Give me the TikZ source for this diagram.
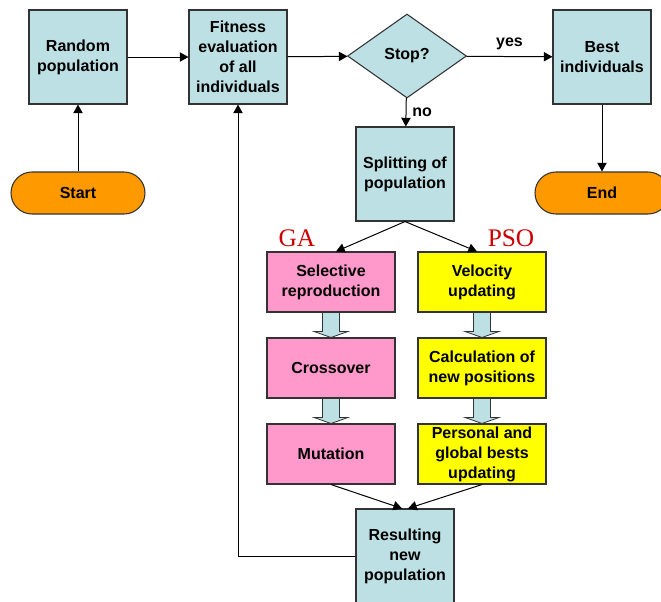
\documentclass[tikz,border=0pt]{standalone}
\usepackage{fontspec}
\setmainfont{Liberation Sans}
\newfontfamily\seriflabel{Liberation Serif}
\usepackage{tikz}
\usetikzlibrary{shapes,arrows.meta,positioning,calc}

\definecolor{boxblue}{HTML}{BCE0E4}
\definecolor{gapink}{HTML}{FF99CC}
\definecolor{psoyellow}{HTML}{FFFF00}
\definecolor{termorange}{HTML}{FF9900}
\definecolor{labelred}{HTML}{CC0000}
\definecolor{edgegray}{HTML}{333333}

\begin{document}
\begin{tikzpicture}[x=0.75pt,y=-0.75pt,
    every node/.style={font=\fontsize{12}{15}\selectfont\bfseries, align=center},
    box/.style={draw=edgegray, line width=0.8pt, fill=boxblue, inner sep=0pt, minimum width=73.5pt, minimum height=70.5pt},
    gabox/.style={box, fill=gapink, minimum width=96pt, minimum height=45pt},
    psobox/.style={gabox, fill=psoyellow},
    term/.style={draw=edgegray, line width=0.8pt, fill=termorange, rounded corners=15.75pt, minimum width=100.5pt, minimum height=31.5pt},
    decision/.style={diamond, draw=edgegray, line width=0.8pt, fill=boxblue, inner sep=0pt, minimum width=89.25pt, minimum height=63pt},
    line/.style={draw, line width=0.75pt, -{Triangle[length=6.5pt,width=7pt]}},
    blockarrow/.style={draw=edgegray, line width=0.6pt, fill=boxblue},
    tag/.style={font=\seriflabel\fontsize{19}{19}\selectfont, text=labelred}]
    \useasboundingbox (0,0) rectangle (661,601);
    \clip (0,0) rectangle (661,601);

    % main loop
    \node[box] (rand) at (78,57) {Random\\population};
    \node[box] (fit) at (238,57) {Fitness\\evaluation\\of all\\individuals};
    \node[decision] (stop) at (407,56) {Stop?};
    \node[box] (best) at (602,57) {Best\\individuals};
    \node[term] (start) at (78,193) {Start};
    \node[term] (endn) at (602,193) {End};
    \node[box] (split) at (405,174) {Splitting of\\population};
    \node[box] (res) at (405,556) {Resulting\\new\\population};

    % GA and PSO branches
    \node[tag] (galabel) at (297,238) {GA};
    \node[tag] (psolabel) at (511,238) {PSO};
    \node[gabox] (sel) at (331,282) {Selective\\reproduction};
    \node[gabox] (cross) at (331,368) {Crossover};
    \node[gabox] (mut) at (331,454) {Mutation};
    \node[psobox] (vel) at (482,282) {Velocity\\updating};
    \node[psobox] (calcpos) at (482,368) {Calculation of\\new positions};
    \node[psobox] (pers) at (482,454) {Personal and\\global bests\\updating};

    \draw[line] (start) -- (rand);
    \draw[line] (rand) -- (fit);
    \draw[line] (fit) -- (stop);
    \draw[line] (stop) -- node[above=1pt] {yes} (best);
    \draw[line] (stop) -- node[right=1pt] {no} (split);
    \draw[line] (best) -- (endn);
    \draw[line] (split.south) -- ($(sel.north)+(5,0)$);
    \draw[line] (split.south) -- ($(vel.north)+(-5,0)$);
    \draw[line] (mut.south) -- ($(res.north)+(-3,0)$);
    \draw[line] (pers.south) -- ($(res.north)+(3,0)$);
    \draw[line] (res.west) -| (fit.south);

    % block arrows inside the branches
    \foreach \a/\b in {sel/cross, cross/mut, vel/calcpos, calcpos/pers} {
        \filldraw[blockarrow] ($(\a.south)+(-8.5,0)$) -- ($(\b.north)+(-8.5,-6)$)
            -- ($(\b.north)+(-17,-6)$) -- (\b.north) -- ($(\b.north)+(17,-6)$)
            -- ($(\b.north)+(8.5,-6)$) -- ($(\a.south)+(8.5,0)$) -- cycle;
    }
\end{tikzpicture}
\end{document}
